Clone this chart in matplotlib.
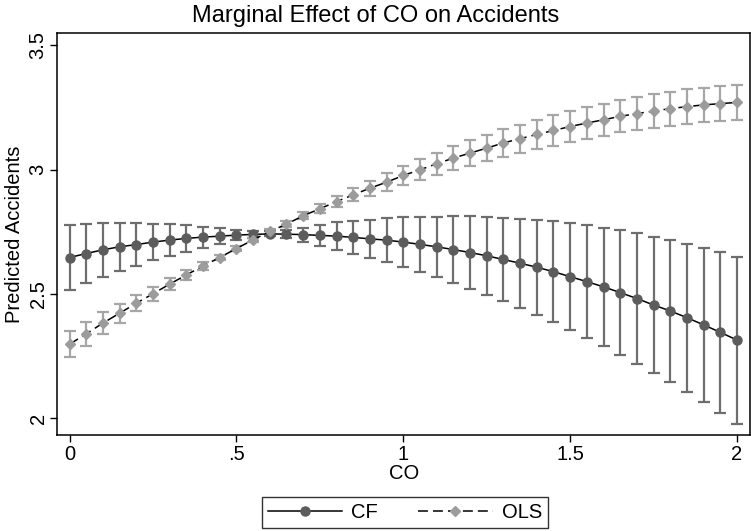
import matplotlib
matplotlib.use("Agg")
import matplotlib.pyplot as plt

plt.rcParams['font.family'] = ['Liberation Sans', 'DejaVu Sans']

co = [0.00, 0.05, 0.10, 0.15, 0.20, 0.25, 0.30, 0.35, 0.40, 0.45,
      0.50, 0.55, 0.60, 0.65, 0.70, 0.75, 0.80, 0.85, 0.90, 0.95,
      1.00, 1.05, 1.10, 1.15, 1.20, 1.25, 1.30, 1.35, 1.40, 1.45,
      1.50, 1.55, 1.60, 1.65, 1.70, 1.75, 1.80, 1.85, 1.90, 1.95, 2.00]

cf_mean = [2.647, 2.663, 2.678, 2.690, 2.699, 2.709, 2.717, 2.724, 2.729, 2.733,
           2.737, 2.740, 2.742, 2.741, 2.739, 2.736, 2.733, 2.728, 2.722, 2.717,
           2.709, 2.700, 2.690, 2.679, 2.667, 2.654, 2.639, 2.624, 2.608, 2.590,
           2.570, 2.550, 2.529, 2.506, 2.482, 2.456, 2.432, 2.405, 2.376, 2.346, 2.315]
cf_half = [0.132, 0.120, 0.108, 0.096, 0.086, 0.074, 0.064, 0.054, 0.042, 0.032,
           0.021, 0.014, 0.010, 0.016, 0.028, 0.043, 0.055, 0.066, 0.077, 0.088,
           0.099, 0.110, 0.121, 0.133, 0.145, 0.156, 0.167, 0.179, 0.191, 0.203,
           0.215, 0.227, 0.238, 0.250, 0.262, 0.274, 0.286, 0.298, 0.310, 0.323, 0.336]

ols_mean = [2.298, 2.340, 2.383, 2.423, 2.463, 2.501, 2.540, 2.577, 2.613, 2.647,
            2.683, 2.718, 2.752, 2.781, 2.815, 2.843, 2.872, 2.899, 2.926, 2.950,
            2.977, 3.000, 3.024, 3.047, 3.067, 3.087, 3.108, 3.125, 3.142, 3.158,
            3.174, 3.188, 3.201, 3.215, 3.226, 3.236, 3.246, 3.254, 3.261, 3.266, 3.271]
ols_half = [0.052, 0.048, 0.043, 0.038, 0.033, 0.028, 0.024, 0.019, 0.015, 0.012,
            0.010, 0.009, 0.009, 0.011, 0.014, 0.018, 0.022, 0.026, 0.030, 0.035,
            0.039, 0.042, 0.045, 0.048, 0.051, 0.053, 0.055, 0.057, 0.059, 0.061,
            0.062, 0.063, 0.064, 0.065, 0.066, 0.067, 0.068, 0.069, 0.069, 0.070, 0.071]

xticks = [0, 0.5, 1, 1.5, 2]
xticklabels = ['0', '.5', '1', '1.5', '2']
yticks = [2, 2.5, 3, 3.5]
yticklabels = ['2', '2.5', '3', '3.5']

cf_color = '#5c5c5c'
cf_err_color = '#6e6e6e'
ols_color = '#9c9c9c'
ols_err_color = '#a6a6a6'

fig = plt.figure(figsize=(7.51, 5.31), dpi=100)
ax = fig.add_axes([0.0763, 0.1808, 0.9224, 0.7565])

ax.errorbar(co, cf_mean, yerr=cf_half, fmt='none', ecolor=cf_err_color,
            elinewidth=1.6, capsize=4, capthick=1.6, zorder=2)
ax.errorbar(co, ols_mean, yerr=ols_half, fmt='none', ecolor=ols_err_color,
            elinewidth=1.6, capsize=4, capthick=1.6, zorder=2)
ax.plot(co, cf_mean, color='black', lw=1.1, ls='-', marker='o', markersize=6.5,
        markerfacecolor=cf_color, markeredgecolor=cf_color, label='CF', zorder=3)
ax.plot(co, ols_mean, color='black', lw=1.1, ls=(0, (6.5, 3.3)), marker='D', markersize=5.5,
        markerfacecolor=ols_color, markeredgecolor=ols_color, label='OLS', zorder=3)

ax.set_xlim(-0.0366, 2.039)
ax.set_ylim(1.933, 3.549)
ax.set_xticks(xticks)
ax.set_xticklabels(xticklabels)
ax.set_yticks(yticks)
ax.set_yticklabels(yticklabels, rotation=90, va='center')
ax.tick_params(direction='out', length=5, width=1, labelsize=14.5, pad=2)
for s in ax.spines.values():
    s.set_linewidth(1.1)

ax.set_xlabel('CO', fontsize=14.5, labelpad=0)
ax.set_ylabel('Predicted Accidents', fontsize=14.5, labelpad=3)
fig.text(0.5, 1 - 16 / 531, 'Marginal Effect of CO on Accidents', fontsize=17,
         ha='center', va='center')

leg = fig.legend(loc='lower center', bbox_to_anchor=(0.539, 0.005), ncol=2,
                 fontsize=14.5, frameon=True, fancybox=False, handlelength=3.7,
                 columnspacing=2.0, borderpad=0.3, handletextpad=0.45,
                 borderaxespad=0)
leg.get_frame().set_edgecolor('black')
leg.get_frame().set_linewidth(1.0)

fig.savefig('out.png', dpi=100)
